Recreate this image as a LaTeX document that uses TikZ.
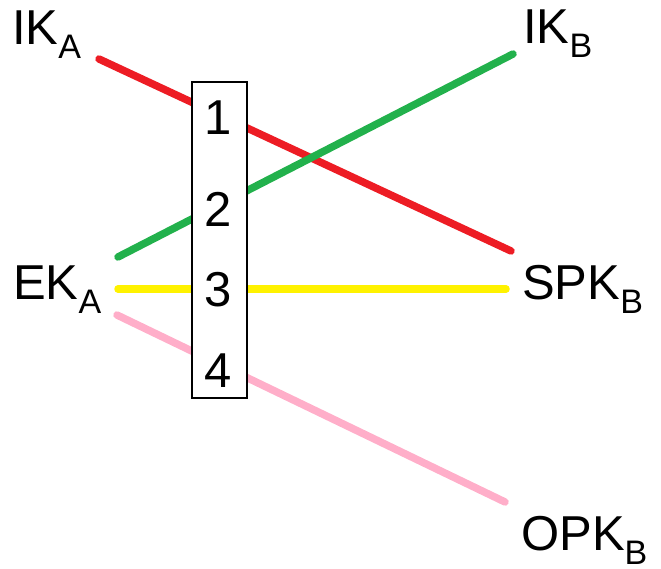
\documentclass[tikz,border=0pt]{standalone}
\usepackage{fontspec}
\setmainfont{Liberation Sans}
\usetikzlibrary{positioning}

\definecolor{kred}{RGB}{237,28,36}
\definecolor{kgreen}{RGB}{34,177,76}
\definecolor{kyellow}{RGB}{255,242,0}
\definecolor{kpink}{RGB}{255,174,201}

% key name with its owner as a subscript
\newcommand{\keyname}[2]{#1\raisebox{-14pt}{\fontsize{34}{34}\selectfont #2}}

\begin{document}
\begin{tikzpicture}[
    x=1pt, y=-1pt,
    lbl/.style={anchor=base west, inner sep=0pt, font=\fontsize{49}{52}\selectfont},
    num/.style={inner sep=0pt, font=\fontsize{49}{52}\selectfont},
    link/.style={line width=7.5pt, line cap=round},
    kdf/.style={draw, line width=2.5pt, fill=white, minimum width=55pt, minimum height=316pt, inner sep=0pt},
  ]
  \useasboundingbox (0,0) rectangle (661,569);
  % key labels
  \node[lbl] (ika) at (12,45) {\keyname{IK}{A}};
  \node[lbl] (eka) at (13,299) {\keyname{EK}{A}};
  \node[lbl] (ikb) at (523,44) {\keyname{IK}{B}};
  \node[lbl] (spkb) at (522,299) {\keyname{SPK}{B}};
  \node[lbl] (opkb) at (521,550) {\keyname{OPK}{B}};
  % line ends
  \coordinate (ika-e) at (99,59);
  \coordinate (eka-g) at (118,257);
  \coordinate (eka-y) at (118,289);
  \coordinate (eka-p) at (117,315);
  \coordinate (ikb-e) at (513,54);
  \coordinate (spkb-r) at (511,251);
  \coordinate (spkb-y) at (506,289);
  \coordinate (opkb-e) at (505,502);
  % the four DH pairs
  \draw[link, kred] (ika-e) -- (spkb-r);
  \draw[link, kgreen] (eka-g) -- (ikb-e);
  \draw[link, kyellow] (eka-y) -- (spkb-y);
  \draw[link, kpink] (eka-p) -- (opkb-e);
  % box on top
  \node[kdf] (box) at (219.5,240) {};
  \node[num] (n1) at (218,118) {1};
  \node[num] (n2) at (218,209) {2};
  \node[num] (n3) at (218,290) {3};
  \node[num] (n4) at (218,371) {4};
\end{tikzpicture}
\end{document}
